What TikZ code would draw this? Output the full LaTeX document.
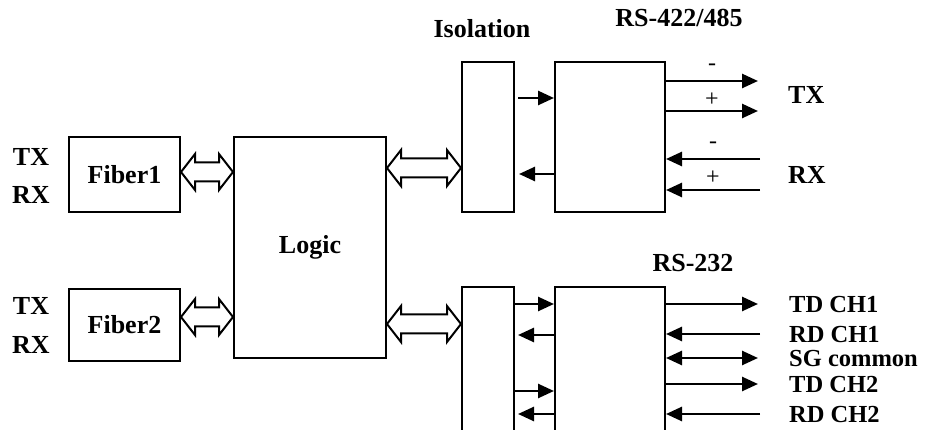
\documentclass[tikz,border=0pt]{standalone}
\usepackage{fontspec}
\setmainfont{Liberation Serif}
\usetikzlibrary{arrows.meta,positioning,calc}
\newcommand{\bigbf}{\bfseries\fontsize{26}{30}\selectfont}
\tikzset{
  box/.style  ={draw,line width=2pt,inner sep=0pt,font=\bigbf},
  lbl/.style  ={inner sep=0pt,font=\bigbf,text height=18pt,text depth=0pt},
  sml/.style  ={lbl,font=\bfseries\fontsize{24.5}{26}\selectfont,text height=17pt},
  pm/.style   ={inner sep=0pt,font=\fontsize{24}{26}\selectfont},
  sig/.style  ={-{Triangle[length=16pt,width=14pt]},line width=2.6pt},
  sigb/.style ={{Triangle[length=16pt,width=14pt]}-{Triangle[length=16pt,width=14pt]},line width=2.6pt},
  bus/.style  ={draw,line width=2pt,line join=miter},
}
% hollow two-way bus arrow between two boxes at height #1
\newcommand{\busarrow}[3]{%
  \draw[bus] (#2.east |- 0,#1) -- ++(14,18) -- ++(0,-8.5) -- ($(#3.west |- 0,#1)+(-14,9.5)$)
    -- ++(0,8.5) -- (#3.west |- 0,#1) -- ++(-14,-18) -- ++(0,8.5)
    -- ($(#2.east |- 0,#1)+(14,-9.5)$) -- ++(0,-8.5) -- cycle;}

\begin{document}
\begin{tikzpicture}[x=1pt,y=-1pt]
  \useasboundingbox (0,0) rectangle (927,430);
  \clip (0,0) rectangle (927,430);
  % blocks
  \node[box,minimum width=111pt,minimum height=75pt] (fib1) at (124.5,174.5) {Fiber1};
  \node[box,minimum width=111pt,minimum height=72pt,below=75pt of fib1] (fib2) {Fiber2};
  \node[box,minimum width=152pt,minimum height=221pt] (logic) at (310,247.5) {Logic};
  \node[box,minimum width=52pt,minimum height=150pt] (iso1) at (488,137) {};
  \node[box,minimum width=110pt,minimum height=150pt,right=39pt of iso1] (rs422) {};
  \node[box,minimum width=52pt,minimum height=175pt] (iso2) at (488,374.5) {};
  \node[box,minimum width=110pt,minimum height=175pt,right=39pt of iso2] (rs232) {};
  \node[lbl,above=23pt of iso1,xshift=-6pt] (isot) {Isolation};
  \node[lbl,above=34pt of rs422,xshift=69pt] (rs422t) {RS-422/485};
  \node[lbl,above=14pt of rs232,xshift=83pt] (rs232t) {RS-232};
  % fiber side
  \node[lbl] (tx1) at (31,157) {TX};
  \node[lbl] (rx1) at (31,195) {RX};
  \node[lbl] (tx2) at (31,306) {TX};
  \node[lbl] (rx2) at (31,345) {RX};
  \busarrow{172}{fib1}{logic}
  \busarrow{317}{fib2}{logic}
  \busarrow{168}{logic}{iso1}
  \busarrow{324}{logic}{iso2}
  % isolation to drivers
  \draw[sig,shorten <=3pt] (iso1.east |- 0,98) -- (rs422.west |- 0,98);
  \draw[sig,shorten >=4pt] (rs422.west |- 0,174) -- (iso1.east |- 0,174);
  \foreach \y in {304,391}
    \draw[sig] (iso2.east |- 0,\y) -- (rs232.west |- 0,\y);
  \foreach \y in {335,414}
    \draw[sig,shorten >=3pt] (rs232.west |- 0,\y) -- (iso2.east |- 0,\y);
  % RS-422/485 lines
  \node[lbl,anchor=west] (tx) at (788,95) {TX};
  \node[lbl,anchor=west] (rx) at (788,175) {RX};
  \coordinate (txm) at (758,81);
  \coordinate (txp) at (758,111);
  \coordinate (rxm) at (760,159);
  \coordinate (rxp) at (760,190);
  \draw[sig] (rs422.east |- txm) -- node[pm,above=9pt] (txmn) {-} (txm);
  \draw[sig] (rs422.east |- txp) -- node[pm,above=3pt] (txpn) {+} (txp);
  \draw[sig] (rxm) -- node[pm,above=9pt] (rxmn) {-} (rs422.east |- rxm);
  \draw[sig] (rxp) -- node[pm,above=4pt] (rxpn) {+} (rs422.east |- rxp);
  % RS-232 lines
  \node[sml,anchor=west] (td1) at (789,304) {TD CH1};
  \node[sml,anchor=west] (rd1) at (789,334) {RD CH1};
  \node[sml,anchor=west] (sg)  at (789,358) {SG common};
  \node[sml,anchor=west] (td2) at (789,384) {TD CH2};
  \node[sml,anchor=west] (rd2) at (789,414) {RD CH2};
  \draw[sig]  (rs232.east |- td1) -- ([xshift=-31pt]td1.west);
  \draw[sig]  ([xshift=-29pt]rd1.west) -- (rs232.east |- rd1);
  \draw[sigb] (rs232.east |- sg) -- ([xshift=-31pt]sg.west);
  \draw[sig]  (rs232.east |- td2) -- ([xshift=-31pt]td2.west);
  \draw[sig]  ([xshift=-29pt]rd2.west) -- (rs232.east |- rd2);
\end{tikzpicture}
\end{document}
